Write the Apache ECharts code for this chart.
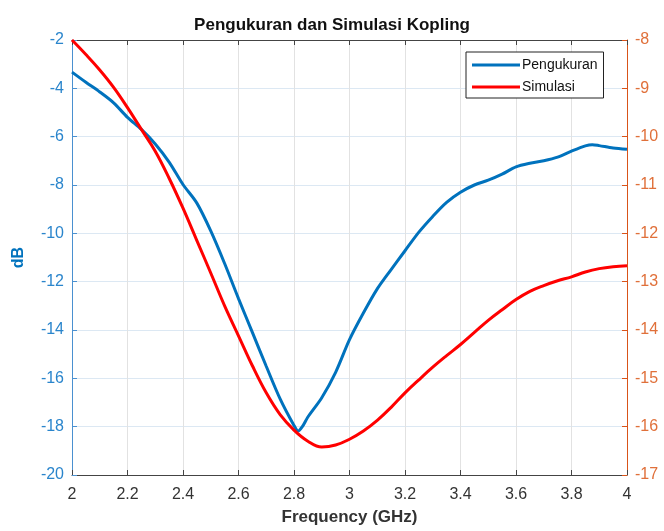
<!DOCTYPE html>
<html><head><meta charset="utf-8">
<script src="https://cdn.jsdelivr.net/npm/echarts@6/dist/echarts.min.js"></script>
<style>html,body{margin:0;padding:0;background:#fff}#c{width:664px;height:531px}</style>
</head><body><div id="c"></div>
<script>
const titleText = 'Pengukuran dan Simulasi Kopling';
const xName = 'Frequency (GHz)';
const yLeftName = 'dB';
const seriesNames = ['Pengukuran', 'Simulasi'];
// Pengukuran (left axis, dB)
const freqMeas = [2.00,2.05,2.10,2.15,2.20,2.25,2.30,2.35,2.40,2.45,2.50,2.55,2.60,2.65,2.70,2.75,2.80,2.815,2.83,2.85,2.90,2.95,3.00,3.05,3.10,3.15,3.20,3.25,3.30,3.35,3.40,3.45,3.50,3.55,3.60,3.65,3.70,3.75,3.80,3.85,3.875,3.90,3.95,4.00];
const meas =     [-3.33,-3.75,-4.15,-4.6,-5.2,-5.7,-6.3,-7.05,-7.98,-8.75,-9.9,-11.25,-12.7,-14.1,-15.5,-16.85,-17.95,-18.18,-18.0,-17.6,-16.8,-15.75,-14.4,-13.3,-12.3,-11.5,-10.72,-9.95,-9.3,-8.72,-8.3,-8.0,-7.8,-7.55,-7.25,-7.1,-7.0,-6.85,-6.6,-6.38,-6.33,-6.37,-6.47,-6.52];
// Simulasi (right axis)
const freqSim = [2.00,2.05,2.10,2.15,2.20,2.25,2.30,2.35,2.40,2.45,2.50,2.55,2.60,2.65,2.70,2.75,2.80,2.85,2.90,2.95,3.00,3.05,3.10,3.15,3.20,3.25,3.30,3.35,3.40,3.45,3.50,3.55,3.60,3.65,3.70,3.75,3.80,3.85,3.90,3.95,4.00];
const sim =     [-8.0,-8.3,-8.62,-8.98,-9.4,-9.85,-10.3,-10.86,-11.48,-12.15,-12.82,-13.5,-14.12,-14.74,-15.3,-15.75,-16.07,-16.3,-16.42,-16.38,-16.26,-16.09,-15.87,-15.6,-15.3,-15.03,-14.77,-14.53,-14.3,-14.05,-13.8,-13.58,-13.37,-13.2,-13.08,-12.98,-12.9,-12.8,-12.73,-12.69,-12.67];

const pair = (xs, ys) => xs.map((x, i) => [x, ys[i]]);
const chart = echarts.init(document.getElementById('c'));
const blue = '#0072BD', red = '#FF0000', orange = '#D95319';
const fam = 'Liberation Sans, Arial, sans-serif';
chart.setOption({
  backgroundColor: '#fff',
  animation: false,
  title: { text: titleText, left: 'center', top: 12, textStyle: { fontFamily: fam, fontSize: 17, fontWeight: 'bold', color: '#111' } },
  grid: { left: 72, right: 37, top: 40, bottom: 55 },
  legend: {
    orient: 'vertical', left: 466, top: 52, data: seriesNames,
    icon: 'rect', itemWidth: 48, itemHeight: 3, itemGap: 8,
    backgroundColor: '#fff', borderColor: '#222', borderWidth: 1, borderRadius: 0,
    padding: [6, 6, 4, 6],
    textStyle: { fontFamily: fam, fontSize: 14, color: '#111', padding: [0, 0, 0, -3] }
  },
  xAxis: [{
    type: 'value', min: 2, max: 4, interval: 0.2, position: 'bottom',
    name: xName, nameLocation: 'middle', nameGap: 34,
    nameTextStyle: { fontFamily: fam, fontSize: 17, fontWeight: 'bold', color: '#333' },
    axisLine: { lineStyle: { color: '#444' } },
    axisTick: { inside: true, length: 5, lineStyle: { color: '#444' } },
    axisLabel: { fontFamily: fam, fontSize: 16, color: '#333', margin: 12, formatter: v => String(+v.toFixed(1)) },
    splitLine: { show: true, lineStyle: { color: '#e2e2e2' } }
  }, {
    type: 'value', min: 2, max: 4, interval: 0.2, position: 'top',
    axisLine: { show: true, lineStyle: { color: '#444' } },
    axisTick: { show: true, inside: true, length: 5, lineStyle: { color: '#444' } },
    axisLabel: { show: false }, splitLine: { show: false }
  }],
  yAxis: [{
    type: 'value', min: -20, max: -2, interval: 2, position: 'left',
    name: yLeftName, nameLocation: 'middle', nameGap: 45, nameRotate: 90,
    nameTextStyle: { fontFamily: fam, fontSize: 16, fontWeight: 'bold', color: blue },
    axisLine: { show: true, lineStyle: { color: '#4a90d0' } },
    axisTick: { show: true, inside: true, length: 5, lineStyle: { color: '#4a90d0' } },
    axisLabel: { fontFamily: fam, fontSize: 16, color: '#2a85cc', margin: 8 },
    splitLine: { show: true, lineStyle: { color: '#dce8f3' } }
  }, {
    type: 'value', min: -17, max: -8, interval: 1, position: 'right',
    axisLine: { show: true, lineStyle: { color: orange } },
    axisTick: { show: true, inside: true, length: 5, lineStyle: { color: orange } },
    axisLabel: { fontFamily: fam, fontSize: 16, color: '#E0703A', margin: 8 },
    splitLine: { show: false }
  }],
  series: [{
    name: seriesNames[0], type: 'line', xAxisIndex: 0, yAxisIndex: 0,
    data: pair(freqMeas, meas), smooth: 0.3, showSymbol: false, symbol: 'none',
    lineStyle: { color: blue, width: 3 }, itemStyle: { color: blue }, z: 3
  }, {
    name: seriesNames[1], type: 'line', xAxisIndex: 0, yAxisIndex: 1,
    data: pair(freqSim, sim), smooth: 0.4, showSymbol: false, symbol: 'none',
    lineStyle: { color: red, width: 3 }, itemStyle: { color: red }, z: 4
  }]
});
</script></body></html>
